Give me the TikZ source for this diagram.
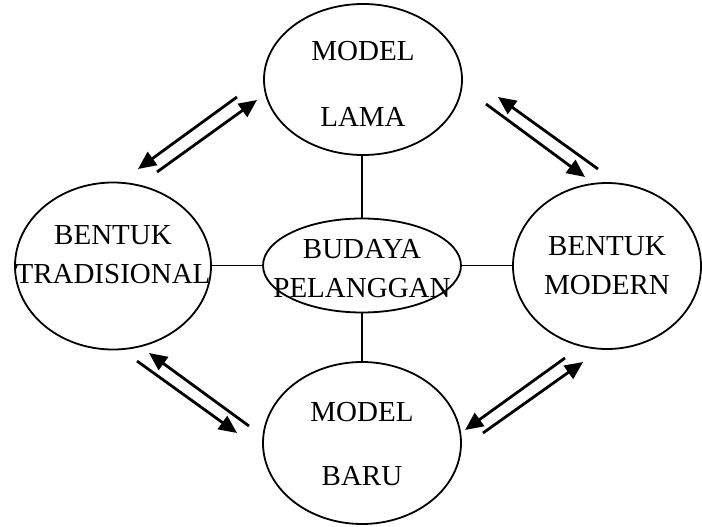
\documentclass[tikz,border=0pt]{standalone}
\usepackage{fontspec}
\setmainfont{Liberation Serif}
\usetikzlibrary{arrows.meta,shapes.geometric}
\tikzset{
  oval/.style={ellipse, draw, line width=1.8pt, inner sep=0pt},
  txt/.style={align=center, font=\fontsize{29}{39}\selectfont},
  link/.style={line width=1.8pt},
  flow/.style={-{Triangle[length=18pt,width=16pt]}, line width=2.8pt},
}

\begin{document}
\begin{tikzpicture}[x=1pt, y=-1pt]
  \useasboundingbox (0,0) rectangle (702,527);
  % ellipses
  \node[oval, minimum width=198pt, minimum height=151pt,
        label={[txt, yshift=-4.5pt]center:{MODEL\\[27pt]LAMA}}] (lama) at (363,79.5) {};
  \node[oval, minimum width=196pt, minimum height=167pt,
        label={[txt, yshift=11pt]center:{BENTUK\\TRADISIONAL}}] (trad) at (113,266) {};
  \node[oval, minimum width=198pt, minimum height=94pt,
        label={[txt, yshift=-3.5pt]center:{BUDAYA\\PELANGGAN}}] (budaya) at (362,265.5) {};
  \node[oval, minimum width=188pt, minimum height=166pt,
        label={[txt]center:{BENTUK\\MODERN}}] (modern) at (607,266) {};
  \node[oval, minimum width=198pt, minimum height=162pt,
        label={[txt, yshift=-1pt]center:{MODEL\\[25pt]BARU}}] (baru) at (362,443) {};
  % links to the centre
  \draw[link] (budaya.north) -- (budaya.north |- lama.south);
  \draw[link] (budaya.south) -- (budaya.south |- baru.north);
  \draw[link] (budaya.west) -- (budaya.west -| trad.east);
  \draw[link] (budaya.east) -- (budaya.east -| modern.west);
  % arrow ends
  \coordinate (tl1) at (237,97);  \coordinate (tl2) at (138,169);
  \coordinate (tl3) at (157,172); \coordinate (tl4) at (257,100);
  \coordinate (tr1) at (598,169); \coordinate (tr2) at (498,97);
  \coordinate (tr3) at (486,104); \coordinate (tr4) at (585,177);
  \coordinate (bl1) at (249,426); \coordinate (bl2) at (149,353);
  \coordinate (bl3) at (137,361); \coordinate (bl4) at (237,433);
  \coordinate (br1) at (565,358); \coordinate (br2) at (465,430);
  \coordinate (br3) at (483,433); \coordinate (br4) at (583,362);
  % arrows
  \draw[flow] (tl1) -- (tl2); \draw[flow] (tl3) -- (tl4);
  \draw[flow] (tr1) -- (tr2); \draw[flow] (tr3) -- (tr4);
  \draw[flow] (bl1) -- (bl2); \draw[flow] (bl3) -- (bl4);
  \draw[flow] (br1) -- (br2); \draw[flow] (br3) -- (br4);
\end{tikzpicture}
\end{document}
